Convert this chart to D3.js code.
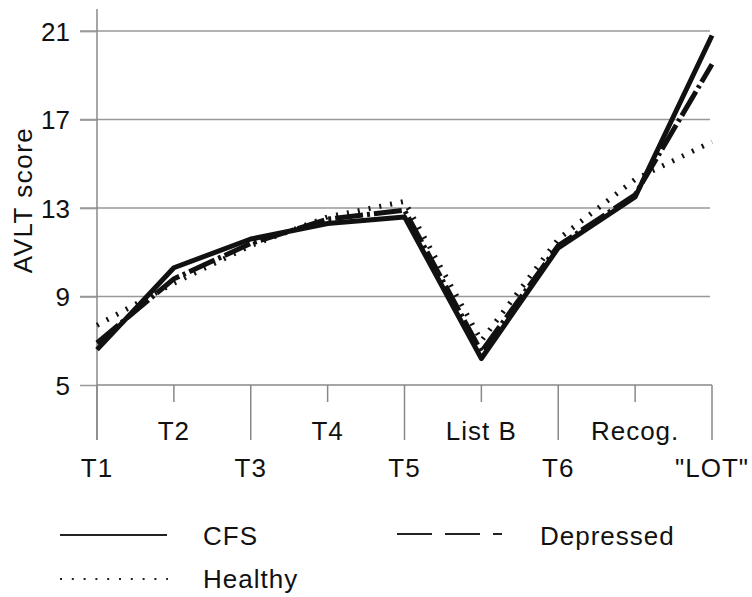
<!DOCTYPE html>
<html><head><meta charset="utf-8">
<script src="https://cdn.jsdelivr.net/npm/d3@7"></script>
<style>
html,body{margin:0;padding:0;background:#fff;}
text{font-family:"Liberation Sans",Arial,Helvetica,sans-serif;fill:#111;}
</style></head>
<body><svg id="c" width="752" height="597"></svg>
<script>
const categories = ["T1","T2","T3","T4","T5","List B","T6","Recog.","\"LOT\""];
const cfs       = [6.6, 10.3, 11.6, 12.3, 12.6, 6.2, 11.2, 13.5, 20.8];
const depressed = [6.9, 9.8, 11.4, 12.5, 12.9, 6.5, 11.3, 13.6, 19.5];
const healthy   = [7.7, 9.6, 11.3, 12.6, 13.3, 7.0, 11.6, 14.3, 16.0];
const yTicks = [5, 9, 13, 17, 21];
const seriesNames = ["CFS", "Depressed", "Healthy"];

const svg = d3.select("#c");
const x = d3.scalePoint().domain(categories).range([97, 712]);
const y = d3.scaleLinear().domain([5, 22]).range([385, 9]);

// gridlines
svg.append("g").selectAll("line").data(yTicks.filter(d => d > 5)).join("line")
  .attr("x1", 80).attr("x2", 710).attr("y1", d => y(d)).attr("y2", d => y(d))
  .attr("stroke", "#999").attr("stroke-width", 1.5);

// y axis
const yAxis = svg.append("g").attr("transform", "translate(97,0)")
  .call(d3.axisLeft(y).tickValues(yTicks).tickSize(17).tickPadding(10).tickFormat(d3.format("d")));
yAxis.select(".domain").remove();
yAxis.selectAll(".tick line").attr("stroke", "#999").attr("stroke-width", 1.5);
yAxis.selectAll(".tick text").attr("font-size", 26).attr("fill", "#111")
  .style("font-family", "'Liberation Sans',Arial,sans-serif").attr("dy", "0.36em");
svg.append("line").attr("x1", 97).attr("x2", 97).attr("y1", y(22)).attr("y2", 440)
  .attr("stroke", "#888").attr("stroke-width", 1.5);

// x axis
svg.append("line").attr("x1", 97).attr("x2", 712).attr("y1", y(5)).attr("y2", y(5))
  .attr("stroke", "#888").attr("stroke-width", 1.5);
const xg = svg.append("g");
xg.selectAll("line").data(categories).join("line")
  .attr("x1", d => x(d)).attr("x2", d => x(d))
  .attr("y1", y(5)).attr("y2", (d, i) => i % 2 === 0 ? 440 : 402)
  .attr("stroke", "#888").attr("stroke-width", 1.5);
xg.selectAll("text").data(categories).join("text")
  .attr("x", d => x(d)).attr("y", (d, i) => i % 2 === 0 ? 477 : 440)
  .attr("text-anchor", "middle").attr("font-size", 26).attr("letter-spacing", 1)
  .text(d => d);

// y label
svg.append("text").attr("transform", "translate(32,200) rotate(-90)")
  .attr("text-anchor", "middle").attr("font-size", 26).attr("letter-spacing", 1.5)
  .text("AVLT score");

// lines
const line = d3.line().x((d, i) => x(categories[i])).y(d => y(d));
svg.append("path").datum(healthy).attr("d", line).attr("fill", "none")
  .attr("stroke", "#111").attr("stroke-width", 5).attr("stroke-dasharray", "2,9");
svg.append("path").datum(depressed).attr("d", line).attr("fill", "none")
  .attr("stroke", "#111").attr("stroke-width", 5).attr("stroke-dasharray", "28,4,3,4");
svg.append("path").datum(cfs).attr("d", line).attr("fill", "none")
  .attr("stroke", "#111").attr("stroke-width", 5).attr("stroke-linejoin", "round");

// legend
const lg = svg.append("g");
lg.append("line").attr("x1", 60).attr("x2", 167).attr("y1", 535).attr("y2", 535)
  .attr("stroke", "#222").attr("stroke-width", 2);
lg.append("text").attr("x", 203).attr("y", 545).attr("font-size", 26).attr("letter-spacing", 1).text(seriesNames[0]);
lg.append("line").attr("x1", 397).attr("x2", 502).attr("y1", 534).attr("y2", 534)
  .attr("stroke", "#222").attr("stroke-width", 2).attr("stroke-dasharray", "35,13");
lg.append("text").attr("x", 540).attr("y", 545).attr("font-size", 26).attr("letter-spacing", 1).text(seriesNames[1]);
lg.append("line").attr("x1", 60).attr("x2", 168).attr("y1", 579).attr("y2", 579)
  .attr("stroke", "#222").attr("stroke-width", 2).attr("stroke-dasharray", "2,9.8");
lg.append("text").attr("x", 203).attr("y", 588).attr("font-size", 26).attr("letter-spacing", 1).text(seriesNames[2]);
</script></body></html>
